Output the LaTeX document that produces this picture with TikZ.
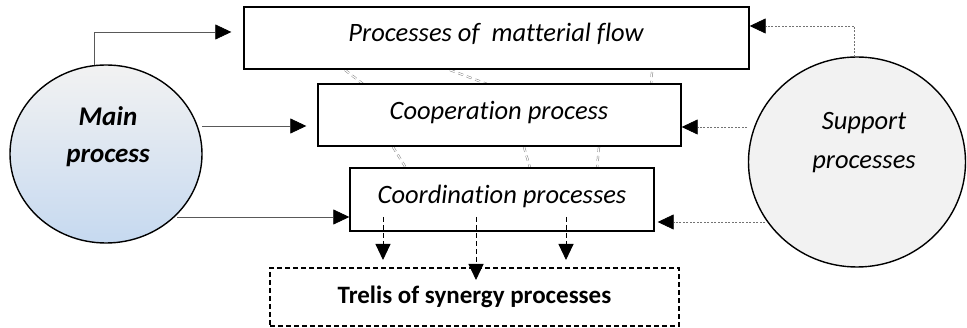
\documentclass[tikz,border=0pt]{standalone}
\usepackage{fontspec}
\setmainfont{Carlito}[Ligatures=NoCommon]
\usetikzlibrary{arrows.meta,shapes.geometric}
\definecolor{lgray}{HTML}{F2F2F2}
\definecolor{lblue}{HTML}{C6D9F0}
\tikzset{
  proc/.style={draw, line width=1.4pt, fill=white, inner sep=0pt},
  synbox/.style={draw, line width=1.2pt, dash pattern=on 5pt off 3pt, fill=white, font=\fontsize{25}{30}\selectfont\bfseries, inner sep=0pt},
  bigcirc/.style={draw, line width=1.4pt, ellipse, inner sep=0pt},
  txt/.style={align=center, inner sep=0pt},
  tip/.style={-{Triangle[length=16pt,width=15pt,color=black]}},
  mainarr/.style={tip, draw=gray!70!black, line width=0.7pt},
  suparr/.style={tip, draw=gray!90!black, line width=0.7pt, dash pattern=on 2pt off 1.5pt},
  downarr/.style={tip, line width=0.9pt, dash pattern=on 5pt off 3pt},
  link/.style={draw=gray, double=white, double distance=1.2pt, line width=0.5pt, dash pattern=on 5pt off 4pt}
}
\begin{document}
\begin{tikzpicture}[x=1pt,y=-1pt]
\useasboundingbox (0,0) rectangle (967,328);
% coupling links between boxes (drawn first, behind boxes)
\coordinate (l1a) at (345,70); \coordinate (l1b) at (363,84);
\coordinate (l2a) at (450,70); \coordinate (l2b) at (487,84);
\coordinate (l3a) at (652,72); \coordinate (l3b) at (651,84);
\coordinate (l4a) at (393,147); \coordinate (l4b) at (406,168);
\coordinate (l5a) at (524,147); \coordinate (l5b) at (530,168);
\coordinate (l6a) at (599,147); \coordinate (l6b) at (597,168);
\foreach \i in {1,...,6} {\draw[link] (l\i a) -- (l\i b);}

\node[proc, minimum width=505pt, minimum height=62pt] (b1) at (496.5,38) {};
\node[txt, font=\fontsize{26.5}{30}\selectfont\itshape] (t1) at (496,34) {Processes of\ \ matterial flow};
\node[proc, minimum width=363pt, minimum height=62pt] (b2) at (499.5,115) {};
\node[txt, font=\fontsize{26.5}{30}\selectfont\itshape] (t2) at (499,113) {Cooperation process};
\node[proc, minimum width=304pt, minimum height=63pt] (b3) at (502,199.5) {};
\node[txt, font=\fontsize{26.5}{30}\selectfont\itshape] (t3) at (502,196.5) {Coordination processes};
\node[synbox, minimum width=409pt, minimum height=58pt] (b4) at (474.5,297) {Trelis of synergy processes};

\node[bigcirc, minimum width=192pt, minimum height=178pt, top color=lgray, middle color=lgray!50!lblue, bottom color=lblue] (main) at (106,154) {};
\node[txt, font=\fontsize{27}{37}\selectfont\bfseries\itshape] (maintxt) at (108,136.5) {Main\\process};
\node[bigcirc, minimum width=217pt, minimum height=210pt, fill=lgray] (sup) at (857,162) {};
\node[txt, font=\fontsize{26.5}{39}\selectfont\itshape] (suptxt) at (864,142.5) {Support\\processes};

% main process arrows
\coordinate (m1) at (94,65);
\coordinate (m2) at (202,126);
\coordinate (m3) at (177,217);
\draw[mainarr, shorten >=12pt] (m1) |- (b1.west |- 0,32);
\draw[mainarr, shorten >=11pt] (m2) -- (b2.west |- m2);
\draw[mainarr] (m3) -- (b3.west |- m3);

% support arrows
\coordinate (s1) at (854,57);
\coordinate (s2) at (747,127);
\coordinate (s3) at (765,222);
\draw[suparr] (s1) |- (b1.east |- 0,26);
\draw[suparr] (s2) -- (b2.east |- s2);
\draw[suparr, shorten >=3pt] (s3) -- (b3.east |- s3);

% down arrows to synergy box
\draw[downarr] (383,217) -- (383,260);
\draw[downarr] (476,217) -- (476,280);
\draw[downarr] (566,217) -- (566,260);
\end{tikzpicture}
\end{document}
